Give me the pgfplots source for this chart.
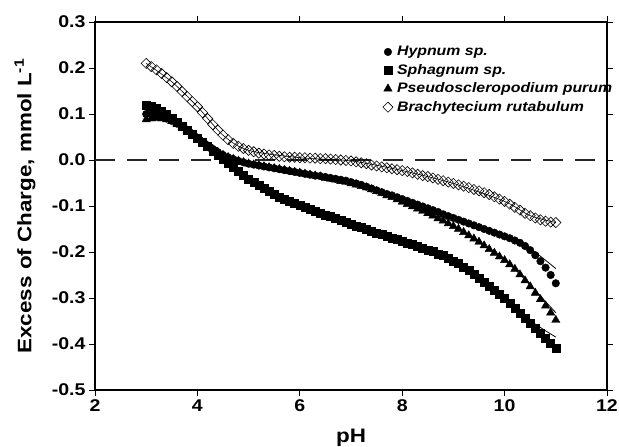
\documentclass[border=0pt]{standalone}
\usepackage{fontspec}
\setmainfont{Liberation Sans}[FakeStretch=1.15]
\usepackage{pgfplots}
\usepackage{pgfplotstable}
\pgfplotsset{compat=1.18}

% pH, Hypnum, Sphagnum, Pseudoscleropodium, Brachytecium
\pgfplotstableread{
ph    hyp     sph     pse     bra
3.0   0.100   0.120   0.088   0.210
3.1   0.099   0.117   0.090   0.203
3.2   0.097   0.112   0.091   0.196
3.3   0.094   0.106   0.090   0.188
3.4   0.090   0.099   0.088   0.179
3.5   0.085   0.091   0.084   0.170
3.6   0.079   0.083   0.079   0.160
3.7   0.072   0.074   0.072   0.149
3.8   0.064   0.065   0.064   0.138
3.9   0.056   0.056   0.056   0.127
4.0   0.047   0.047   0.047   0.116
4.1   0.039   0.038   0.039   0.103
4.2   0.031   0.029   0.031   0.090
4.3   0.024   0.020   0.024   0.077
4.4   0.017   0.011   0.017   0.065
4.5   0.011   0.002   0.011   0.054
4.6   0.006  -0.007   0.006   0.044
4.7   0.002  -0.016   0.002   0.036
4.8  -0.002  -0.025  -0.002   0.030
4.9  -0.005  -0.033  -0.005   0.025
5.0  -0.008  -0.041  -0.008   0.021
5.1  -0.010  -0.048  -0.010   0.018
5.2  -0.012  -0.055  -0.012   0.015
5.3  -0.014  -0.062  -0.014   0.013
5.4  -0.016  -0.068  -0.016   0.011
5.5  -0.018  -0.074  -0.018   0.010
5.6  -0.020  -0.080  -0.020   0.008
5.7  -0.022  -0.085  -0.022   0.007
5.8  -0.024  -0.090  -0.024   0.006
5.9  -0.026  -0.094  -0.026   0.006
6.0  -0.028  -0.098  -0.028   0.005
6.1  -0.030  -0.103  -0.030   0.005
6.2  -0.032  -0.107  -0.032   0.004
6.3  -0.034  -0.111  -0.034   0.004
6.4  -0.035  -0.115  -0.036   0.003
6.5  -0.037  -0.119  -0.039   0.003
6.6  -0.039  -0.123  -0.041   0.002
6.7  -0.041  -0.127  -0.043   0.001
6.8  -0.043  -0.131  -0.046   0.000
6.9  -0.045  -0.135  -0.048  -0.001
7.0  -0.048  -0.139  -0.051  -0.002
7.1  -0.051  -0.143  -0.054  -0.004
7.2  -0.054  -0.147  -0.057  -0.006
7.3  -0.058  -0.151  -0.060  -0.008
7.4  -0.062  -0.155  -0.064  -0.011
7.5  -0.066  -0.159  -0.068  -0.013
7.6  -0.070  -0.162  -0.072  -0.015
7.7  -0.074  -0.166  -0.077  -0.017
7.8  -0.077  -0.169  -0.081  -0.019
7.9  -0.081  -0.173  -0.086  -0.021
8.0  -0.085  -0.176  -0.091  -0.023
8.1  -0.089  -0.180  -0.096  -0.025
8.2  -0.093  -0.183  -0.101  -0.028
8.3  -0.097  -0.187  -0.106  -0.031
8.4  -0.101  -0.191  -0.111  -0.034
8.5  -0.105  -0.195  -0.116  -0.036
8.6  -0.109  -0.199  -0.121  -0.039
8.7  -0.113  -0.204  -0.127  -0.042
8.8  -0.118  -0.208  -0.132  -0.045
8.9  -0.122  -0.213  -0.138  -0.048
9.0  -0.126  -0.219  -0.144  -0.051
9.1  -0.130  -0.225  -0.150  -0.054
9.2  -0.134  -0.232  -0.157  -0.057
9.3  -0.138  -0.240  -0.164  -0.060
9.4  -0.142  -0.248  -0.171  -0.064
9.5  -0.146  -0.257  -0.178  -0.067
9.6  -0.150  -0.265  -0.186  -0.071
9.7  -0.154  -0.274  -0.194  -0.075
9.8  -0.158  -0.283  -0.202  -0.080
9.9  -0.162  -0.292  -0.210  -0.085
10.0 -0.166  -0.301  -0.218  -0.090
10.1 -0.170  -0.311  -0.227  -0.096
10.2 -0.175  -0.322  -0.237  -0.103
10.3 -0.180  -0.333  -0.249  -0.109
10.4 -0.187  -0.344  -0.262  -0.116
10.5 -0.196  -0.355  -0.275  -0.121
10.6 -0.207  -0.366  -0.289  -0.126
10.7 -0.220  -0.377  -0.303  -0.130
10.8 -0.234  -0.388  -0.317  -0.133
10.9 -0.250  -0.399  -0.332  -0.135
11.0 -0.268  -0.410  -0.348  -0.136
}\chargedata

\begin{document}
\begin{tikzpicture}
\useasboundingbox (-95pt,-57pt) rectangle (524pt,390pt);
\begin{axis}[
  at={(0pt,0pt)}, anchor=south west,
  scale only axis, width=512pt, height=368pt,
  xmin=2, xmax=12, ymin=-0.5, ymax=0.3,
  xtick={2,4,6,8,10,12},
  ytick={-0.5,-0.4,-0.3,-0.2,-0.1,0,0.1,0.2,0.3},
  yticklabel style={/pgf/number format/.cd, fixed, fixed zerofill, precision=1},
  /pgf/number format/assume math mode=true,
  tick align=outside,
  major tick length=6pt,
  tick style={black, line width=0.9pt},
  axis line style={black, line width=1.1pt},
  ticklabel style={font=\fontsize{17}{17}\selectfont\bfseries},
  xlabel={pH},
  ylabel={Excess of Charge, mmol L\textsuperscript{-1}},
  label style={font=\fontsize{19.5}{19.5}\selectfont\bfseries},
  xlabel style={at={(axis description cs:0.5,-0.142)}, anchor=base},
  ylabel style={at={(axis description cs:-0.1367,0.5)}, anchor=center},
  legend image code/.code={\draw[#1] plot coordinates {(0pt,0pt)};},
  legend style={at={(0.556,0.945)}, anchor=north west, draw=none, fill=none,
    font=\fontsize{13.8}{13.8}\selectfont\bfseries\itshape, row sep=3pt,
    column sep=2pt},
  legend cell align=left,
]
\addplot[black!85, line width=1.2pt, dash pattern=on 20pt off 12pt, forget plot]
  coordinates {(2,0) (12,0)};

\addplot[only marks, mark=*, mark size=3.8pt, black, mark options={fill=black}]
  table[x=ph, y=hyp] {\chargedata};
\addlegendentry{Hypnum sp.}
\addplot[only marks, mark=square*, mark size=4pt, black, mark options={fill=black}]
  table[x=ph, y=sph] {\chargedata};
\addlegendentry{Sphagnum sp.}
\addplot[only marks, mark=triangle*, mark size=4.8pt, black, mark options={fill=black}]
  table[x=ph, y=pse] {\chargedata};
\addlegendentry{Pseudoscleropodium purum}
\addplot[only marks, mark=square, mark size=3.6pt, black, mark options={rotate=45, line width=0.6pt}]
  table[x=ph, y=bra] {\chargedata};
\addlegendentry{Brachytecium rutabulum}

% fitted curves
\addplot[black, line width=0.8pt, smooth, forget plot] coordinates {
  (3,0.100) (3.5,0.085) (4,0.047) (4.5,0.011) (5,-0.008) (6,-0.028) (7,-0.048)
  (8,-0.085) (9,-0.126) (10,-0.166) (10.5,-0.193) (11,-0.236)};
\addplot[black, line width=0.8pt, smooth, forget plot] coordinates {
  (3,0.120) (3.5,0.091) (4,0.047) (4.5,0.002) (5,-0.041) (6,-0.098) (7,-0.139)
  (8,-0.176) (9,-0.219) (10,-0.301) (10.5,-0.349) (11,-0.385)};
\addplot[black, line width=0.8pt, smooth, forget plot] coordinates {
  (3,0.088) (3.5,0.084) (4,0.047) (4.5,0.011) (5,-0.008) (6,-0.028) (7,-0.051)
  (8,-0.091) (9,-0.144) (10,-0.218) (10.5,-0.272) (11,-0.332)};
\addplot[black, line width=0.6pt, smooth, forget plot] coordinates {
  (3,0.210) (3.5,0.170) (4,0.116) (4.5,0.054) (5,0.021) (6,0.005) (7,-0.002)
  (8,-0.023) (9,-0.051) (10,-0.090) (10.5,-0.121) (11,-0.136)};
\end{axis}
\end{tikzpicture}
\end{document}
